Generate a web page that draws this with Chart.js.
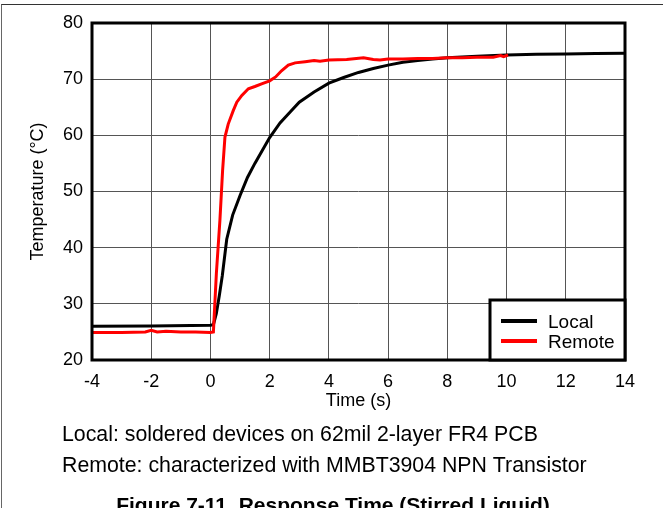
<!DOCTYPE html>
<html>
<head>
<meta charset="utf-8">
<script src="https://cdn.jsdelivr.net/npm/chart.js@4.4.1/dist/chart.umd.min.js"></script>
<style>
  body { margin: 0; background: #fff; }
  #wrap { position: relative; width: 663px; height: 508px; overflow: hidden; }
  #frame {
    position: absolute; left: 1px; top: 4px; width: 662px; height: 504px;
    border-top: 1px solid #333; border-left: 1px solid #666;
  }
</style>
</head>
<body>
<div id="wrap">
  <canvas id="myChart" width="663" height="508"></canvas>
  <div id="frame"></div>
</div>
<script>
const localTime = [-4, -2, 0, 0.1, 0.2, 0.3, 0.4, 0.55, 0.75, 1.0, 1.25, 1.5, 1.75, 2.0, 2.35, 2.7, 3.0, 3.5, 4.0, 4.5, 5.0, 5.5, 6.0, 6.5, 7.0, 7.5, 8.0, 9.0, 10.0, 11.0, 12.0, 13.0, 14.0];
const localTemp = [26.0, 26.05, 26.2, 26.3, 28.3, 31.5, 35.0, 41.5, 45.8, 49.3, 52.5, 55.0, 57.3, 59.6, 62.2, 64.2, 65.9, 67.7, 69.3, 70.3, 71.2, 71.9, 72.5, 73.0, 73.3, 73.6, 73.8, 74.1, 74.3, 74.45, 74.5, 74.55, 74.6];

const remoteTime = [-4, -3, -2.2, -2.0, -1.8, -1.5, -1.0, -0.5, 0, 0.1, 0.2, 0.32, 0.41, 0.49, 0.6, 0.77, 0.89, 1.06, 1.28, 1.5, 1.75, 2.0, 2.2, 2.4, 2.63, 2.86, 3.2, 3.5, 3.7, 4.0, 4.6, 5.17, 5.5, 5.73, 6.0, 6.5, 7.0, 7.5, 8.0, 8.5, 9.0, 9.55, 9.8, 9.9, 10.05];
const remoteTemp = [24.9, 24.9, 25.0, 25.3, 25.0, 25.1, 25.0, 25.0, 24.9, 25.0, 35.4, 44.9, 53.7, 59.7, 62.0, 64.4, 65.9, 67.1, 68.3, 68.7, 69.2, 69.7, 70.4, 71.5, 72.5, 72.9, 73.1, 73.3, 73.2, 73.4, 73.5, 73.8, 73.5, 73.4, 73.6, 73.6, 73.7, 73.7, 73.8, 73.8, 73.9, 73.9, 74.2, 74.0, 74.3];

const seriesNames = ["Local", "Remote"];
const seriesColors = ["#000000", "#ff0000"];

const xTitle = "Time (s)";
const yTitle = "Temperature (°C)";
const notes = [
  "Local: soldered devices on 62mil 2-layer FR4 PCB",
  "Remote: characterized with MMBT3904 NPN Transistor",
];
const figureTitle = "Figure 7-11. Response Time (Stirred Liquid)";

const FONT = "'Liberation Sans', Arial, sans-serif";

function toPoints(xs, ys) {
  return xs.map(function (x, i) { return { x: x, y: ys[i] }; });
}

// thick box round the plot, then the boxed legend in the lower right
const framePlugin = {
  id: "framePlugin",
  afterDraw(chart) {
    const ctx = chart.ctx;
    const a = chart.chartArea;
    ctx.save();
    ctx.strokeStyle = "#000";
    ctx.lineWidth = 3;
    ctx.strokeRect(a.left, a.top, a.right - a.left, a.bottom - a.top);

    const w = 135, h = 60;
    const lx = a.right - w, ly = a.bottom - h;
    ctx.fillStyle = "#fff";
    ctx.fillRect(lx, ly, w, h);
    ctx.strokeRect(lx, ly, w, h);

    ctx.font = "19px " + FONT;
    ctx.textBaseline = "alphabetic";
    ctx.textAlign = "left";
    chart.data.datasets.forEach(function (ds, i) {
      const y = ly + 21 + i * 20;
      ctx.strokeStyle = ds.borderColor;
      ctx.lineWidth = 4;
      ctx.beginPath();
      ctx.moveTo(lx + 11, y);
      ctx.lineTo(lx + 47, y);
      ctx.stroke();
      ctx.fillStyle = "#000";
      ctx.fillText(ds.label, lx + 58, y + 7);
    });

    // notes under the chart
    ctx.font = "21.3px " + FONT;
    ctx.fillText(notes[0], 62, 441);
    ctx.fillText(notes[1], 62, 472);
    ctx.font = "bold 21px " + FONT;
    ctx.textAlign = "center";
    ctx.fillText(figureTitle, 333, 512);
    ctx.restore();
  },
};

const ctx = document.getElementById("myChart");
Chart.defaults.font.family = FONT;
Chart.defaults.font.size = 18;
Chart.defaults.color = "#000";

new Chart(ctx, {
  type: "line",
  data: {
    datasets: [{
      label: seriesNames[0],
      data: toPoints(localTime, localTemp),
      borderColor: seriesColors[0],
      borderWidth: 3,
      pointRadius: 0,
      tension: 0,
      order: 1,
    }, {
      label: seriesNames[1],
      data: toPoints(remoteTime, remoteTemp),
      borderColor: seriesColors[1],
      borderWidth: 3,
      pointRadius: 0,
      tension: 0,
      order: 0,
    }],
  },
  options: {
    responsive: false,
    animation: false,
    devicePixelRatio: 1,
    layout: { padding: { left: 0, right: 38, top: 23, bottom: 96 } },
    plugins: {
      legend: { display: false },
      tooltip: { enabled: false },
    },
    scales: {
      x: {
        type: "linear",
        min: -4,
        max: 14,
        ticks: { stepSize: 2, padding: 11, maxRotation: 0 },
        grid: { color: "#555", lineWidth: 1, drawTicks: false },
        border: { display: false },
        title: { display: true, text: xTitle, padding: { top: 0, bottom: 0 } },
        afterFit(scale) { scale.height = 52; },
      },
      y: {
        min: 20,
        max: 80,
        ticks: { stepSize: 10, padding: 9 },
        grid: { color: "#555", lineWidth: 1, drawTicks: false },
        border: { display: false },
        title: { display: true, text: yTitle, padding: { top: 27, bottom: 0 } },
        afterFit(scale) { scale.width = 92; },
      },
    },
  },
  plugins: [framePlugin],
});
</script>
</body>
</html>
